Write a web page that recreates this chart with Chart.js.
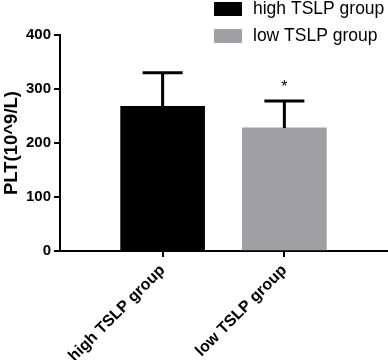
<!DOCTYPE html>
<html>
<head>
<meta charset="utf-8">
<script src="https://cdn.jsdelivr.net/npm/chart.js@4.4.1/dist/chart.umd.min.js"></script>
<style>
  html, body { margin: 0; padding: 0; background: #fff; }
  #box { width: 388px; height: 360px; }
</style>
</head>
<body>
<div id="box"><canvas id="grafico"></canvas></div>
<script>
// dati
var gruppi = ["high TSLP group", "low TSLP group"];
var medie = [268, 228];
var devstd = [62, 50];
var signif = ["", "*"];
var colori = ["#000000", "#a09fa4"];
var yTicks = [0, 100, 200, 300, 400];

var font = "'Liberation Sans', Arial, sans-serif";

// un dataset per gruppo, cosi la legenda ha due voci
var datasets = gruppi.map(function (g, i) {
    return {
        label: g,
        data: [{ x: i + 1, y: medie[i] }],
        backgroundColor: colori[i],
        borderWidth: 0,
        barThickness: 84,
        grouped: false
    };
});

// barre di errore + asterisco
var erroriPlugin = {
    id: "errori",
    afterDatasetsDraw: function (chart) {
        var ctx = chart.ctx;
        var ys = chart.scales.y;
        ctx.save();
        ctx.strokeStyle = "#000";
        ctx.lineWidth = 3;
        chart.data.datasets.forEach(function (ds, i) {
            var bar = chart.getDatasetMeta(i).data[0];
            var top = ys.getPixelForValue(medie[i] + devstd[i]);
            ctx.beginPath();
            ctx.moveTo(bar.x, bar.y);
            ctx.lineTo(bar.x, top);
            ctx.moveTo(bar.x - 20, top);
            ctx.lineTo(bar.x + 20, top);
            ctx.stroke();
            if (signif[i]) {
                ctx.fillStyle = "#000";
                ctx.font = "16px " + font;
                ctx.textAlign = "center";
                ctx.textBaseline = "alphabetic";
                ctx.fillText(signif[i], bar.x, top - 9);
            }
        });
        ctx.restore();
    }
};

// legenda disegnata a mano in alto a destra
var legendaPlugin = {
    id: "legenda",
    afterDraw: function (chart) {
        var ctx = chart.ctx;
        ctx.save();
        ctx.font = "17.5px " + font;
        ctx.textBaseline = "middle";
        ctx.textAlign = "left";
        chart.data.datasets.forEach(function (ds, i) {
            var y = 2 + i * 27;
            ctx.fillStyle = ds.backgroundColor;
            ctx.fillRect(214, y, 28, 14);
            ctx.fillStyle = "#000";
            ctx.fillText(ds.label, 253, y + 7);
        });
        ctx.restore();
    }
};

new Chart(document.getElementById("grafico"), {
    type: "bar",
    data: { datasets: datasets },
    options: {
        responsive: true,
        maintainAspectRatio: false,
        animation: false,
        layout: { padding: { top: 35, right: 1, left: 0, bottom: 0 } },
        plugins: {
            legend: { display: false },
            tooltip: { enabled: false }
        },
        scales: {
            x: {
                type: "linear",
                offset: false,
                min: 0.157,
                max: 2.843,
                afterBuildTicks: function (scale) {
                    scale.ticks = gruppi.map(function (g, i) { return { value: i + 1 }; });
                },
                afterFit: function (scale) { scale.height = 109; },
                grid: { offset: false, drawOnChartArea: false, drawTicks: true, tickLength: 6, color: "#000", lineWidth: 2 },
                border: { display: true, color: "#000", width: 2 },
                ticks: {
                    color: "#000",
                    font: { family: font, size: 16, weight: "bold" },
                    minRotation: 45,
                    maxRotation: 45,
                    padding: 4,
                    autoSkip: false,
                    callback: function (v) { return gruppi[v - 1]; }
                }
            },
            y: {
                min: 0,
                max: 400,
                afterBuildTicks: function (scale) {
                    scale.ticks = yTicks.map(function (v) { return { value: v }; });
                },
                afterFit: function (scale) { scale.width = 60; },
                grid: { drawOnChartArea: false, drawTicks: true, tickLength: 6, color: "#000", lineWidth: 2 },
                border: { display: true, color: "#000", width: 2 },
                ticks: {
                    color: "#000",
                    font: { family: font, size: 15, weight: "bold" },
                    padding: 3
                },
                title: {
                    display: true,
                    text: "PLT(10^9/L)",
                    color: "#000",
                    font: { family: font, size: 18.5, weight: "bold" },
                    padding: { top: 1, bottom: 0 }
                }
            }
        }
    },
    plugins: [erroriPlugin, legendaPlugin]
});
</script>
</body>
</html>
